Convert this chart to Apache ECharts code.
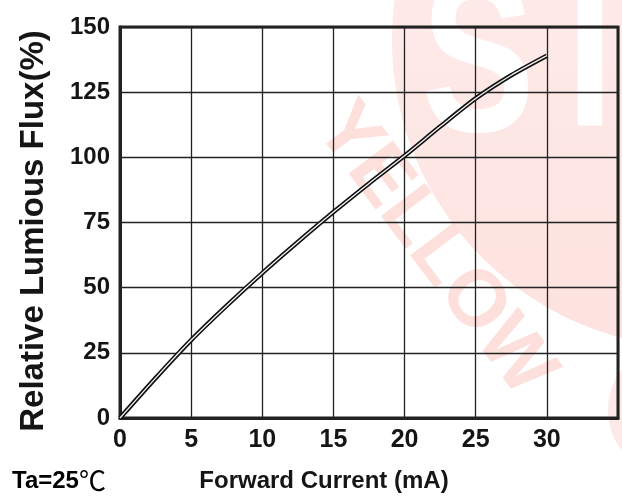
<!DOCTYPE html>
<html>
<head>
<meta charset="utf-8">
<script src="https://cdn.jsdelivr.net/npm/echarts@6/dist/echarts.min.js"></script>
<style>
  html, body { margin: 0; padding: 0; background: #ffffff; }
  #chart { width: 622px; height: 500px; }
</style>
</head>
<body>
<div id="chart"></div>
<script>
// Forward current (mA) vs. relative luminous flux (%)
var current = [0, 2.5, 5, 7.5, 10, 12.5, 15, 17.5, 20, 22.5, 25, 27.5, 30];
var flux = [0, 15.3, 29.9, 43.1, 55.6, 67.5, 79, 90, 100.6, 111.8, 122.6, 131.5, 139];

var xTicks = [0, 5, 10, 15, 20, 25, 30];
var yTicks = [0, 25, 50, 75, 100, 125, 150];

var xTitle = 'Forward Current (mA)';
var yTitle = 'Relative Lumious Flux(%)';
var condition = 'Ta=25';

var FONT = '"Liberation Sans", Arial, sans-serif';
var INK = '#151515';

var points = current.map(function (c, i) { return [c, flux[i]]; });

var chart = echarts.init(document.getElementById('chart'), null, { renderer: 'canvas' });

chart.setOption({
  animation: false,
  backgroundColor: '#ffffff',
  grid: {
    left: 120, top: 27, right: 4, bottom: 82,
    show: true, borderColor: '#222', borderWidth: 3,
    backgroundColor: 'transparent'
  },
  xAxis: {
    type: 'value', min: 0, max: 35, interval: 5,
    axisLine: { show: true, lineStyle: { color: '#222', width: 3 } },
    axisTick: { show: false },
    splitLine: { show: true, lineStyle: { color: '#222', width: 1.3 } },
    axisLabel: {
      margin: 10, color: INK, fontFamily: FONT, fontWeight: 'bold', fontSize: 25,
      formatter: function (v) { return xTicks.indexOf(v) >= 0 ? String(v) : ''; }
    }
  },
  yAxis: {
    type: 'value', min: 0, max: 150, interval: 25,
    axisLine: { show: true, lineStyle: { color: '#222', width: 3 } },
    axisTick: { show: false },
    splitLine: { show: true, lineStyle: { color: '#222', width: 1.3 } },
    axisLabel: {
      margin: 10, color: INK, fontFamily: FONT, fontWeight: 'bold', fontSize: 24,
      formatter: function (v) { return yTicks.indexOf(v) >= 0 ? String(v) : ''; }
    }
  },
  graphic: [
    // background brand mark
    {
      type: 'circle', z: -20, silent: true,
      shape: { cx: 700, cy: 40, r: 308 },
      style: {
        fill: new echarts.graphic.LinearGradient(0, 0, 0, 1, [
          { offset: 0, color: '#fef1f0' },
          { offset: 1, color: '#fde2df' }
        ])
      }
    },
    {
      type: 'ellipse', z: -20, silent: true,
      shape: { cx: 660, cy: 410, rx: 52, ry: 60 },
      style: { fill: '#fde9e7' }
    },
    {
      type: 'text', z: -19, silent: true, x: 478, y: 181, scaleY: 1.3,
      style: { text: 'S', fill: '#ffffff', font: 'bold 170px ' + FONT, textAlign: 'center', textVerticalAlign: 'bottom' }
    },
    {
      type: 'text', z: -19, silent: true, x: 590, y: 176, scaleY: 1.3,
      style: { text: 'T', fill: '#ffffff', font: 'bold 170px ' + FONT, textAlign: 'center', textVerticalAlign: 'bottom' }
    },
    {
      type: 'text', z: -18, silent: true, x: 434, y: 250, rotation: -53 * Math.PI / 180,
      style: { text: 'YELLOW', fill: '#fde0dc', font: 'bold 80px ' + FONT, textAlign: 'center', textVerticalAlign: 'middle' }
    },
    // titles
    {
      type: 'text', x: 34, y: 231, rotation: Math.PI / 2,
      style: { text: yTitle, fill: INK, font: 'bold 33px ' + FONT, textAlign: 'center', textVerticalAlign: 'middle' }
    },
    {
      type: 'text', x: 324, y: 481,
      style: { text: xTitle, fill: INK, font: 'bold 24px ' + FONT, textAlign: 'center', textVerticalAlign: 'middle' }
    },
    {
      type: 'text', x: 12, y: 481,
      style: {
        text: '{a|' + condition + '}{b|℃}',
        textVerticalAlign: 'middle',
        rich: {
          a: { fontFamily: FONT, fontWeight: 'bold', fontSize: 24, color: INK },
          b: { fontFamily: '"Noto Sans CJK SC", sans-serif', fontWeight: 'normal', fontSize: 27, color: INK }
        }
      }
    }
  ],
  series: [
    {
      type: 'line', data: points, smooth: 0.25, symbol: 'none', z: 3,
      lineStyle: { color: '#111', width: 4.5 }
    },
    {
      type: 'line', data: points, smooth: 0.25, symbol: 'none', z: 4,
      lineStyle: { color: '#f4f4f4', width: 1.3 }
    }
  ]
});
</script>
</body>
</html>
